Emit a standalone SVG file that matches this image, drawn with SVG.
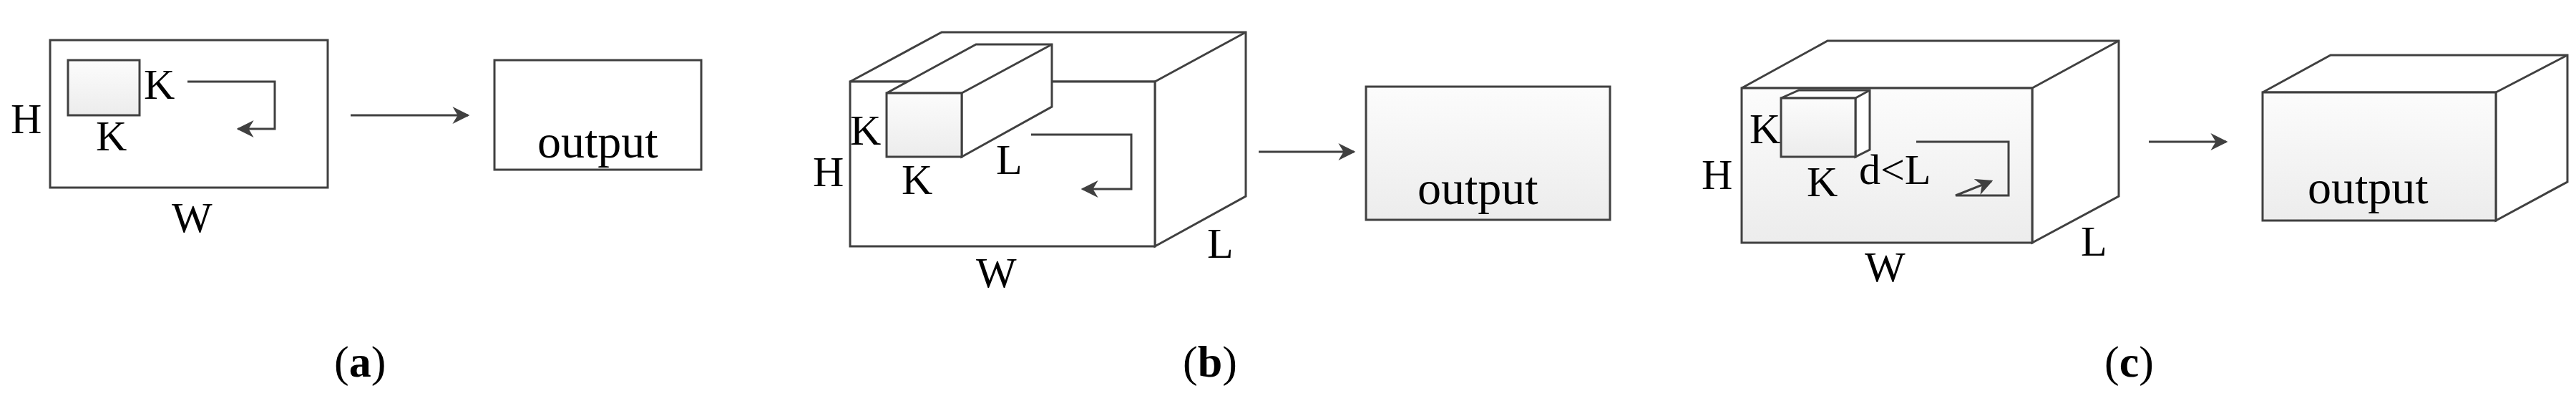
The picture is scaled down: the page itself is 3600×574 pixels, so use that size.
<svg xmlns="http://www.w3.org/2000/svg" width="3600" height="574" viewBox="0 0 3600 574">
<style>
.s{fill:none;stroke:#404040;stroke-width:3}
.g{fill:url(#gr);stroke:#404040;stroke-width:3}
.w{fill:#fff;stroke:#404040;stroke-width:3}
.t{font-family:"Liberation Serif",serif;font-size:60px;fill:#000}
.o{font-family:"Liberation Serif",serif;font-size:66px;fill:#000}
.c{font-family:"Liberation Serif",serif;font-size:62px;fill:#000}
</style>
<defs>
<linearGradient id="gr" x1="0" y1="0" x2="0" y2="1"><stop offset="0" stop-color="#fcfcfc"/><stop offset="1" stop-color="#ececec"/></linearGradient>
<marker id="ah" viewBox="0 0 10 10" refX="9" refY="5" markerWidth="8" markerHeight="8" markerUnits="strokeWidth" orient="auto"><path d="M0,0L10,5L0,10L3,5Z" fill="#404040"/></marker>
</defs>
<g id="panel-a">
<rect class="w" x="70" y="56" width="388" height="206"/>
<rect class="g" x="95" y="84" width="100" height="77"/>
<text class="t" x="201" y="138">K</text>
<text class="t" x="134" y="210">K</text>
<text class="t" x="15" y="186">H</text>
<text class="t" x="240" y="324">W</text>
</g>
<g id="output-a">
<rect class="w" x="691" y="84" width="289" height="153"/>
<text class="o" x="751" y="220">output</text>
</g>
<g id="panel-b">
<path class="w" d="M1188,114L1316,45L1741,45L1741,274L1614,344L1614,114Z"/>
<path class="s" d="M1614,114L1741,45"/>
<rect class="w" x="1188" y="114" width="426" height="230"/>
<path class="w" d="M1239,130L1364,62L1470,62L1470,149L1344,219L1344,130Z"/>
<path class="s" d="M1344,130L1470,62"/>
<rect class="g" x="1239" y="130" width="105" height="89"/>
<text class="t" x="1188" y="202">K</text>
<text class="t" x="1260" y="271">K</text>
<text class="t" x="1392" y="243">L</text>
<text class="t" x="1136" y="260">H</text>
<text class="t" x="1364" y="401">W</text>
<text class="t" x="1687" y="360">L</text>
</g>
<g id="output-b">
<rect class="g" x="1909" y="121" width="341" height="186"/>
<text class="o" x="1981" y="285">output</text>
</g>
<g id="panel-c">
<path class="w" d="M2434,123L2554,57L2961,57L2961,274L2840,339L2840,123Z"/>
<path class="s" d="M2840,123L2961,57"/>
<rect class="g" x="2434" y="123" width="406" height="216"/>
<path class="w" d="M2489,137L2514,126L2613,126L2613,209L2593,219L2593,137Z"/>
<path class="s" d="M2593,137L2613,126"/>
<rect class="g" x="2489" y="137" width="104" height="82"/>
<text class="t" x="2445" y="200">K</text>
<text class="t" x="2525" y="274">K</text>
<text class="t" x="2598" y="257">d&lt;L</text>
<text class="t" x="2378" y="264">H</text>
<text class="t" x="2606" y="393">W</text>
<text class="t" x="2908" y="357">L</text>
</g>
<g id="output-c">
<path class="w" d="M3162,129L3257,77L3588,77L3588,254L3488,308L3488,129Z"/>
<path class="s" d="M3488,129L3588,77"/>
<rect class="g" x="3162" y="129" width="326" height="179"/>
<text class="o" x="3225" y="284">output</text>
</g>
<g id="connectors">
<path class="s" d="M262,114H384V180H333" marker-end="url(#ah)"/>
<path class="s" d="M490,161H654" marker-end="url(#ah)"/>
<path class="s" d="M1441,188H1581V264H1513" marker-end="url(#ah)"/>
<path class="s" d="M1759,212H1892" marker-end="url(#ah)"/>
<path class="s" d="M2678,198H2807V273H2733L2783,253" marker-end="url(#ah)"/>
<path class="s" d="M3003,198H3111" marker-end="url(#ah)"/>
</g>
<g id="captions">
<text class="c" x="467" y="526">(<tspan font-weight="bold">a</tspan>)</text>
<text class="c" x="1653" y="526">(<tspan font-weight="bold">b</tspan>)</text>
<text class="c" x="2941" y="526">(<tspan font-weight="bold">c</tspan>)</text>
</g>
</svg>
